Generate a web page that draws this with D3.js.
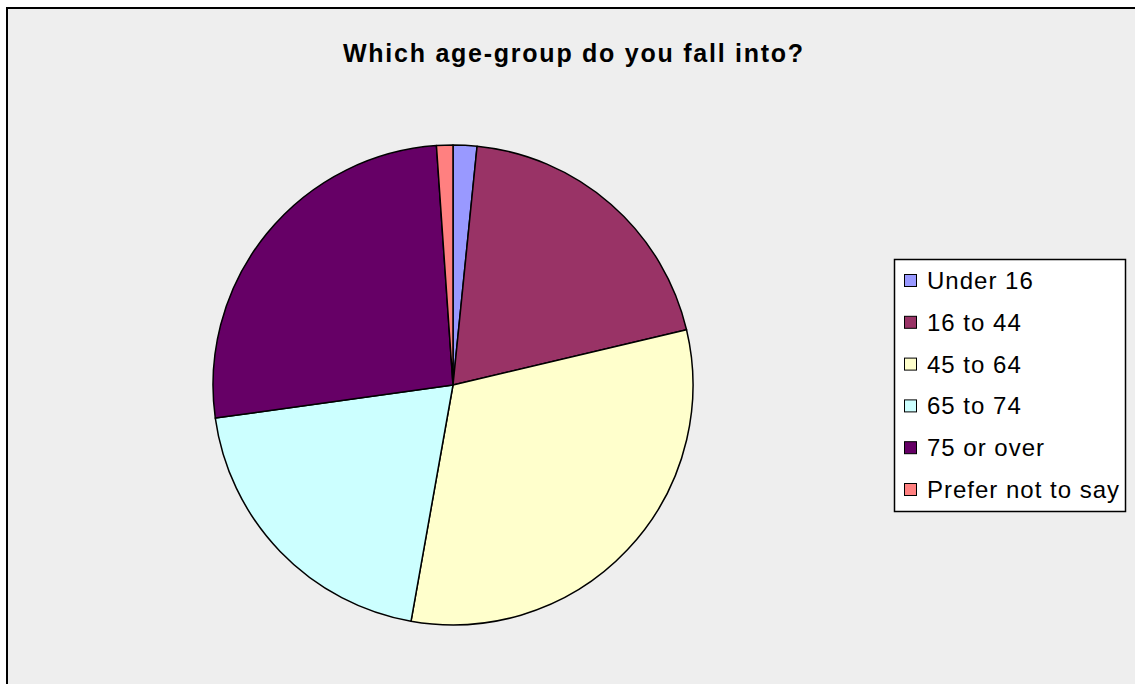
<!DOCTYPE html>
<html><head><meta charset="utf-8">
<script src="https://cdn.jsdelivr.net/npm/d3@7"></script>
<style>html,body{margin:0;padding:0;background:#fff;overflow:hidden}</style>
</head><body>
<script>
const categories = ["Under 16","16 to 44","45 to 64","65 to 74","75 or over","Prefer not to say"];
const values = [1.6, 19.7, 31.5, 20.0, 26.1, 1.1];
const colors = ["#9999FF","#993366","#FFFFCC","#CCFFFF","#660066","#FF8080"];
const title = "Which age-group do you fall into?";

const W = 1135, H = 684;
const svg = d3.select("body").append("svg").attr("width", W).attr("height", H);

svg.append("rect").attr("x", 7).attr("y", 8).attr("width", W + 20).attr("height", H + 20)
  .attr("fill", "#eeeeee").attr("stroke", "#000").attr("stroke-width", 2);

svg.append("text").attr("x", 343).attr("y", 62).attr("text-anchor", "start")
  .attr("font-family", "Liberation Sans, Arial, sans-serif").attr("font-weight", "bold")
  .attr("font-size", 25).attr("letter-spacing", 1.75).attr("fill", "#000").text(title);

const cx = 453, cy = 385, r = 240;
const pie = d3.pie().sort(null).value(d => d.v);
const arc = d3.arc().innerRadius(0).outerRadius(r);
const data = categories.map((c, i) => ({c, v: values[i], col: colors[i]}));

svg.append("g").attr("transform", `translate(${cx},${cy})`)
  .selectAll("path").data(pie(data)).join("path")
  .attr("d", arc).attr("fill", d => d.data.col)
  .attr("stroke", "#000").attr("stroke-width", 1.5).attr("stroke-linejoin", "round");

const lg = svg.append("g");
lg.append("rect").attr("x", 894.5).attr("y", 259.5).attr("width", 231).attr("height", 252)
  .attr("fill", "#fff").attr("stroke", "#000").attr("stroke-width", 1.5);

const ly = d3.scalePoint().domain(categories).range([281, 490]);
const items = lg.selectAll("g.item").data(data).join("g").attr("class", "item")
  .attr("transform", d => `translate(0,${ly(d.c)})`);
items.append("rect").attr("x", 904.5).attr("y", -6.5).attr("width", 12).attr("height", 12)
  .attr("fill", d => d.col).attr("stroke", "#000").attr("stroke-width", 1);
items.append("text").attr("x", 927).attr("y", 8)
  .attr("font-family", "Liberation Sans, Arial, sans-serif").attr("font-size", 24)
  .attr("letter-spacing", 1).attr("fill", "#000").text(d => d.c);
</script>
</body></html>
